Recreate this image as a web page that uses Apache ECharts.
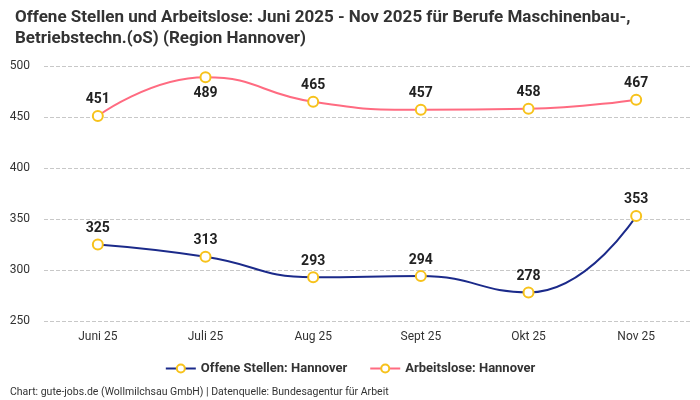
<!DOCTYPE html>
<html><head><meta charset="utf-8">
<script src="https://cdn.jsdelivr.net/npm/echarts@6/dist/echarts.min.js"></script>
<style>html,body{margin:0;padding:0;background:#fff}#c{width:700px;height:400px}</style>
</head><body><div id="c"></div>
<script>
const categories = ['Juni 25','Juli 25','Aug 25','Sept 25','Okt 25','Nov 25'];
const offeneStellen = [325, 313, 293, 294, 278, 353];
const arbeitslose = [451, 489, 465, 457, 458, 467];
const seriesNames = ['Offene Stellen: Hannover', 'Arbeitslose: Hannover'];
const FONT = '"Liberation Sans Narrow", "Roboto", sans-serif';

const chart = echarts.init(document.getElementById('c'));
const labelCfg = {show: true, position: 'top', distance: 3, fontFamily: FONT, fontSize: 14, fontWeight: 'bold', color: '#222'};
const mk = (name, data, color, bottomIdx) => ({
  name, type: 'line', smooth: true, data: data.map((v, i) => i === bottomIdx ? {value: v, label: {position: 'bottom', distance: 3}} : v),
  symbol: 'circle', symbolSize: 10,
  lineStyle: {color, width: 2},
  itemStyle: {color: '#fff', borderColor: '#f7c21b', borderWidth: 2},
  label: labelCfg,
  emphasis: {disabled: true}
});
chart.setOption({
  animation: false,
  title: {
    text: 'Offene Stellen und Arbeitslose: Juni 2025 - Nov 2025 für Berufe Maschinenbau-,\nBetriebstechn.(oS) (Region Hannover)',
    left: 10, top: 2,
    textStyle: {fontFamily: FONT, fontSize: 17, fontWeight: 'bold', color: '#333', lineHeight: 21}
  },
  graphic: [{type: 'text', left: 10, top: 387, style: {text: 'Chart: gute-jobs.de (Wollmilchsau GmbH) | Datenquelle: Bundesagentur für Arbeit', font: '10.5px ' + FONT, fill: '#333'}}],
  legend: {
    bottom: 20, left: 'center', itemWidth: 30, itemHeight: 10, itemGap: 22,
    data: seriesNames,
    textStyle: {fontFamily: FONT, fontSize: 13, fontWeight: 'bold', color: '#333'}
  },
  grid: {left: 44, right: 10, top: 66, bottom: 79, containLabel: false},
  xAxis: {
    type: 'category', data: categories, boundaryGap: true,
    axisLine: {show: false}, axisTick: {show: false},
    axisLabel: {fontFamily: FONT, fontSize: 12, color: '#333', margin: 10}
  },
  yAxis: {
    type: 'value', min: 250, max: 500, interval: 50,
    axisLabel: {fontFamily: FONT, fontSize: 12, color: '#333', margin: 14},
    splitLine: {lineStyle: {type: 'dashed', color: '#c8c8c8'}}
  },
  series: [
    mk(seriesNames[0], offeneStellen, '#1b2a8a', -1),
    mk(seriesNames[1], arbeitslose, '#ff6b81', 1)
  ]
});
</script></body></html>
